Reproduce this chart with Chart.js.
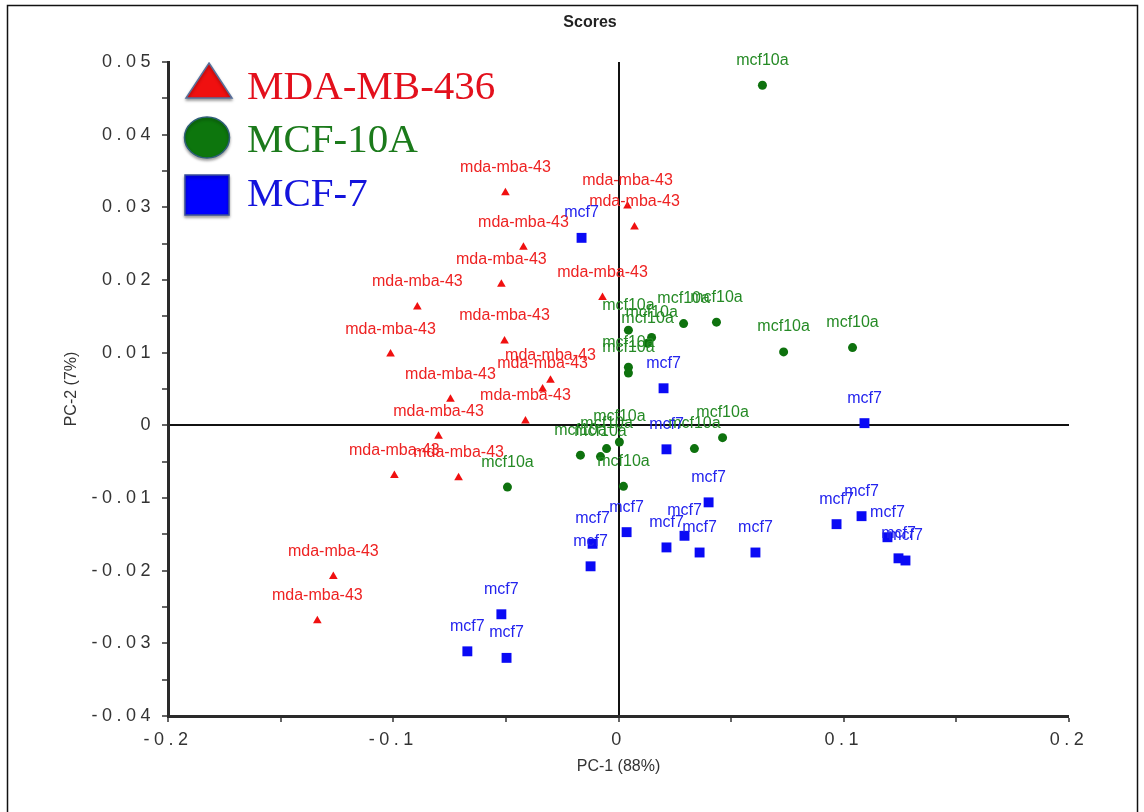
<!DOCTYPE html>
<html>
<head>
<meta charset="utf-8">
<script src="https://cdn.jsdelivr.net/npm/chart.js@4.4.1/dist/chart.umd.min.js"></script>
<style>
  body { margin: 0; background: #fff; }
  #wrap { position: relative; width: 1144px; height: 812px; }
</style>
</head>
<body>
<div id="wrap"><canvas id="scores"></canvas></div>
<script>
// PCA scores
const mdaX = [-0.0502, 0.0040, 0.0071, -0.0422, -0.0520, -0.0071, -0.0893, -0.0506, -0.1012, -0.0302, -0.0337, -0.0746, -0.0413, -0.0799, -0.0995, -0.0710, -0.1266, -0.1337];
const mdaY = [0.0320, 0.0302, 0.0273, 0.0245, 0.0194, 0.0176, 0.0163, 0.0116, 0.0098, 0.0062, 0.0050, 0.0036, 0.0006, -0.0015, -0.0069, -0.0072, -0.0208, -0.0269];

const mcf10aX = [0.0639, 0.0289, 0.0435, 0.0733, 0.1039, 0.0044, 0.0147, 0.0129, 0.0044, 0.0044, 0.0462, 0.0337, 0.0004, -0.0053, -0.0169, -0.0080, 0.0022, -0.0493];
const mcf10aY = [0.0468, 0.0140, 0.0142, 0.0101, 0.0107, 0.0131, 0.0121, 0.0113, 0.0080, 0.0072, -0.0017, -0.0032, -0.0023, -0.0032, -0.0041, -0.0043, -0.0084, -0.0085];

const mcf7X = [-0.0164, 0.0200, 0.1092, 0.0213, 0.0400, 0.0036, 0.0293, 0.0213, 0.0360, 0.0608, -0.0115, -0.0124, 0.0968, 0.1079, 0.1194, 0.1243, 0.1274, -0.0520, -0.0671, -0.0497];
const mcf7Y = [0.0258, 0.0051, 0.0003, -0.0033, -0.0106, -0.0147, -0.0152, -0.0168, -0.0175, -0.0175, -0.0163, -0.0194, -0.0136, -0.0125, -0.0154, -0.0183, -0.0186, -0.0260, -0.0311, -0.0320];

const groupNames = ['MDA-MB-436', 'MCF-10A', 'MCF-7'];
const pointTags = ['mda-mba-43', 'mcf10a', 'mcf7'];
const xLabelTicks = [-0.2, -0.1, 0, 0.1, 0.2];
const yLabelTicks = [0.05, 0.04, 0.03, 0.02, 0.01, 0, -0.01, -0.02, -0.03, -0.04];

const markColors = ['#f01010', '#0e720e', '#0a0af5'];
const tagColors = ['#ee2222', '#258a25', '#2323ee'];
const legendColors = ['#e3101c', '#1b7a1b', '#1414dc'];

function toPoints(xs, ys) {
  return xs.map((x, i) => ({ x: x, y: ys[i] }));
}

function isLabelled(v, list) {
  return list.some(t => Math.abs(t - v) < 1e-6);
}

const labelsPlugin = {
  id: 'labelsPlugin',
  beforeDraw(chart) {
    // the tick numbers in the original are widely spaced
    chart.ctx.letterSpacing = '4.5px';
  },
  beforeDatasetsDraw(chart) {
    chart.ctx.letterSpacing = '0px';
  },
  afterDraw(chart) {
    const ctx = chart.ctx;
    const area = chart.chartArea;
    ctx.save();
    ctx.letterSpacing = '0px';

    // point tags
    ctx.font = '16px "Liberation Sans", Arial, sans-serif';
    ctx.textAlign = 'center';
    ctx.textBaseline = 'middle';
    chart.data.datasets.forEach((ds, di) => {
      const meta = chart.getDatasetMeta(di);
      ctx.fillStyle = tagColors[di];
      meta.data.forEach(pt => {
        ctx.fillText(pointTags[di], pt.x, pt.y - 25);
      });
    });

    // title and axis titles
    ctx.fillStyle = '#222';
    ctx.font = 'bold 16px "Liberation Sans", Arial, sans-serif';
    ctx.fillText('Scores', 590, 23);
    ctx.fillStyle = '#333';
    ctx.font = '16px "Liberation Sans", Arial, sans-serif';
    ctx.fillText('PC-1 (88%)', (area.left + area.right) / 2, 767);
    ctx.save();
    ctx.translate(72, (area.top + area.bottom) / 2);
    ctx.rotate(-Math.PI / 2);
    ctx.fillText('PC-2 (7%)', 0, 0);
    ctx.restore();

    // legend
    ctx.save();
    ctx.shadowColor = 'rgba(0,0,0,0.35)';
    ctx.shadowBlur = 3;
    ctx.shadowOffsetY = 2;
    ctx.fillStyle = markColors[0];
    ctx.strokeStyle = '#55709c';
    ctx.lineWidth = 1.5;
    ctx.beginPath();
    ctx.moveTo(209, 63);
    ctx.lineTo(232, 98);
    ctx.lineTo(186, 98);
    ctx.closePath();
    ctx.fill();
    ctx.stroke();
    ctx.fillStyle = '#0d760d';
    ctx.strokeStyle = '#2f5f7a';
    ctx.beginPath();
    ctx.ellipse(207, 137.5, 22.5, 20.5, 0, 0, Math.PI * 2);
    ctx.fill();
    ctx.stroke();
    ctx.fillStyle = '#0000ff';
    ctx.strokeStyle = '#3a4f99';
    ctx.fillRect(185, 175, 44, 40);
    ctx.strokeRect(185, 175, 44, 40);
    ctx.restore();

    ctx.textAlign = 'left';
    ctx.textBaseline = 'alphabetic';
    ctx.font = '41px "Liberation Serif", "Times New Roman", serif';
    const legendBase = [99, 152, 206];
    groupNames.forEach((name, i) => {
      ctx.fillStyle = legendColors[i];
      ctx.fillText(name, 247, legendBase[i]);
    });

    // picture frame
    ctx.strokeStyle = '#111';
    ctx.lineWidth = 1.5;
    ctx.strokeRect(7.5, 5.5, 1130, 900);
    ctx.restore();
  }
};

const ctx = document.getElementById('scores').getContext('2d');
const chart = new Chart(ctx, {
  type: 'scatter',
  data: {
    datasets: [
      { label: groupNames[0], data: toPoints(mdaX, mdaY), pointStyle: 'triangle', pointRadius: 5,
        backgroundColor: markColors[0], borderColor: markColors[0], borderWidth: 0 },
      { label: groupNames[1], data: toPoints(mcf10aX, mcf10aY), pointStyle: 'circle', pointRadius: 4.5,
        backgroundColor: markColors[1], borderColor: markColors[1], borderWidth: 0 },
      { label: groupNames[2], data: toPoints(mcf7X, mcf7Y), pointStyle: 'rect', pointRadius: 7,
        backgroundColor: markColors[2], borderColor: markColors[2], borderWidth: 0 }
    ]
  },
  options: {
    responsive: true,
    maintainAspectRatio: false,
    animation: false,
    layout: { padding: { top: 62, right: 75, left: 0, bottom: 0 } },
    plugins: {
      legend: { display: false },
      title: { display: false },
      tooltip: { enabled: false }
    },
    scales: {
      x: {
        type: 'linear',
        min: -0.2,
        max: 0.2,
        afterFit: (scale) => { scale.height = 96; },
        border: { display: true, width: 3, color: '#2a2a2a' },
        grid: {
          drawOnChartArea: true,
          drawTicks: true,
          tickLength: 6,
          tickWidth: 1.5,
          tickColor: '#333',
          color: (c) => (c.tick && Math.abs(c.tick.value) < 1e-9 ? '#111' : 'rgba(0,0,0,0)'),
          lineWidth: (c) => (c.tick && Math.abs(c.tick.value) < 1e-9 ? 2 : 0)
        },
        ticks: {
          stepSize: 0.05,
          autoSkip: false,
          maxRotation: 0,
          padding: 7,
          color: '#333',
          font: { family: '"Liberation Sans", Arial, sans-serif', size: 18 },
          callback: (v) => (isLabelled(v, xLabelTicks) ? (Math.abs(v) < 1e-9 ? '0' : v.toFixed(1)) : '')
        }
      },
      y: {
        type: 'linear',
        min: -0.04,
        max: 0.05,
        afterFit: (scale) => { scale.width = 168; },
        border: { display: true, width: 3, color: '#2a2a2a' },
        grid: {
          drawOnChartArea: true,
          drawTicks: true,
          tickLength: 6,
          tickWidth: 1.5,
          tickColor: '#333',
          color: (c) => (c.tick && Math.abs(c.tick.value) < 1e-9 ? '#111' : 'rgba(0,0,0,0)'),
          lineWidth: (c) => (c.tick && Math.abs(c.tick.value) < 1e-9 ? 2 : 0)
        },
        ticks: {
          stepSize: 0.005,
          autoSkip: false,
          padding: 7,
          color: '#333',
          font: { family: '"Liberation Sans", Arial, sans-serif', size: 18 },
          callback: (v) => (isLabelled(v, yLabelTicks) ? (Math.abs(v) < 1e-9 ? '0' : v.toFixed(2)) : '')
        }
      }
    }
  },
  plugins: [labelsPlugin]
});
</script>
</body>
</html>
